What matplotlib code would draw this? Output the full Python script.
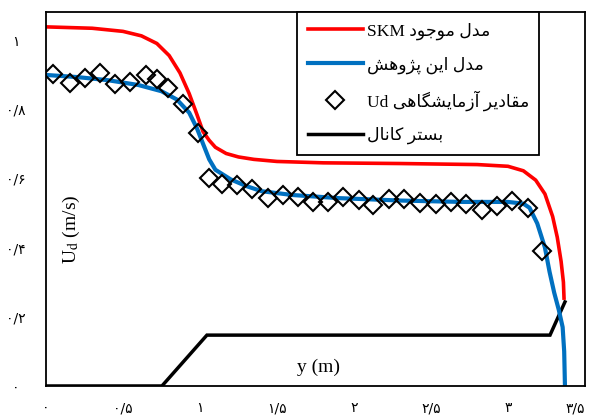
import matplotlib
matplotlib.use("Agg")
import matplotlib.pyplot as plt

plt.rcParams['mathtext.fontset'] = 'stix'

# Persian legend labels (logical order)
label_skm = "مدل موجود SKM"
label_model = "مدل این پژوهش"
label_exp = "مقادیر آزمایشگاهی Ud"
label_bed = "بستر کانال"

# tick values and Persian tick labels
x_ticks = [0, 0.5, 1, 1.5, 2, 2.5, 3, 3.5]
x_tick_labels = ["۰", "۰/۵", "۱", "۱/۵", "۲", "۲/۵", "۳", "۳/۵"]
y_ticks = [0, 0.2, 0.4, 0.6, 0.8, 1.0]
y_tick_labels = ["۰", "۰/۲", "۰/۴", "۰/۶", "۰/۸", "۱"]

# SKM model (red)
skm_y_pos = [0, 0.3, 0.5, 0.62, 0.72, 0.8, 0.87, 0.93, 0.98, 1.02, 1.06, 1.1,
             1.17, 1.25, 1.35, 1.5, 1.8, 2.3, 2.8, 3.0, 3.1, 3.18, 3.24, 3.29,
             3.32, 3.345, 3.36, 3.364]
skm_ud = [1.038, 1.034, 1.025, 1.012, 0.99, 0.955, 0.905, 0.845, 0.785, 0.735,
          0.71, 0.69, 0.672, 0.662, 0.655, 0.649, 0.645, 0.643, 0.640, 0.635,
          0.622, 0.595, 0.555, 0.49, 0.43, 0.36, 0.30, 0.254]

# this study's model (blue)
model_y_pos = [0, 0.2, 0.4, 0.6, 0.75, 0.85, 0.93, 0.98, 1.02, 1.06, 1.1, 1.2,
               1.3, 1.4, 1.6, 1.9, 2.3, 2.7, 3.0, 3.1, 3.14, 3.19, 3.24, 3.27,
               3.30, 3.33, 3.355, 3.365, 3.37]
model_ud = [0.899, 0.893, 0.884, 0.870, 0.852, 0.828, 0.790, 0.745, 0.700, 0.655,
            0.625, 0.597, 0.578, 0.563, 0.552, 0.543, 0.536, 0.532, 0.532, 0.527,
            0.515, 0.47, 0.40, 0.33, 0.27, 0.22, 0.17, 0.10, 0.0]

# measured values (diamonds)
exp_y_pos = [0.045, 0.156, 0.253, 0.351, 0.448, 0.545, 0.649, 0.721, 0.792, 0.890,
             0.987, 1.058, 1.143, 1.240, 1.338, 1.442, 1.539, 1.636, 1.734, 1.831,
             1.929, 2.032, 2.123, 2.227, 2.325, 2.429, 2.532, 2.630, 2.727, 2.831,
             2.929, 3.026, 3.130, 3.221]
exp_ud = [0.902, 0.876, 0.890, 0.905, 0.873, 0.879, 0.899, 0.887, 0.861, 0.815,
          0.731, 0.601, 0.584, 0.581, 0.569, 0.543, 0.552, 0.546, 0.532, 0.532,
          0.546, 0.538, 0.523, 0.540, 0.540, 0.529, 0.526, 0.532, 0.526, 0.509,
          0.520, 0.535, 0.514, 0.390]

# channel bed (black)
bed_y_pos = [0, 0.753, 1.045, 3.273, 3.370]
bed_z = [0, 0, 0.147, 0.147, 0.243]

# simple Persian shaping (matplotlib does not join Arabic letters)
FORMS = {
    'ا': ('\uFE8D', '\uFE8E', None, None),
    'آ': ('\uFE81', '\uFE82', None, None),
    'ب': ('\uFE8F', '\uFE90', '\uFE91', '\uFE92'),
    'پ': ('\uFB56', '\uFB57', '\uFB58', '\uFB59'),
    'ت': ('\uFE95', '\uFE96', '\uFE97', '\uFE98'),
    'ج': ('\uFE9D', '\uFE9E', '\uFE9F', '\uFEA0'),
    'د': ('\uFEA9', '\uFEAA', None, None),
    'ر': ('\uFEAD', '\uFEAE', None, None),
    'ز': ('\uFEAF', '\uFEB0', None, None),
    'ژ': ('\uFB8A', '\uFB8B', None, None),
    'س': ('\uFEB1', '\uFEB2', '\uFEB3', '\uFEB4'),
    'ش': ('\uFEB5', '\uFEB6', '\uFEB7', '\uFEB8'),
    'ق': ('\uFED5', '\uFED6', '\uFED7', '\uFED8'),
    'ک': ('\uFB8E', '\uFB8F', '\uFB90', '\uFB91'),
    'گ': ('\uFB92', '\uFB93', '\uFB94', '\uFB95'),
    'ل': ('\uFEDD', '\uFEDE', '\uFEDF', '\uFEE0'),
    'م': ('\uFEE1', '\uFEE2', '\uFEE3', '\uFEE4'),
    'ن': ('\uFEE5', '\uFEE6', '\uFEE7', '\uFEE8'),
    'ه': ('\uFEE9', '\uFEEA', '\uFEEB', '\uFEEC'),
    'و': ('\uFEED', '\uFEEE', None, None),
    'ی': ('\uFBFC', '\uFBFD', '\uFBFE', '\uFBFF'),
}


def shape_word(word):
    if not any(c in FORMS for c in word):
        return word
    out = []
    for i, c in enumerate(word):
        f = FORMS[c]
        prev_joins = i > 0 and FORMS[word[i - 1]][2] is not None
        next_joins = i < len(word) - 1 and f[2] is not None
        if prev_joins and next_joins:
            out.append(f[3])
        elif prev_joins:
            out.append(f[1])
        elif next_joins:
            out.append(f[2])
        else:
            out.append(f[0])
    return ''.join(reversed(out))


def fa(text):
    return ' '.join(shape_word(w) for w in reversed(text.split()))


fig = plt.figure(figsize=(5.91, 4.18), dpi=100)
ax = fig.add_axes([0.0778, 0.0766, 0.912, 0.8947])

ax.plot(bed_y_pos, bed_z, color='black', lw=2.5, solid_joinstyle='miter', label=fa(label_bed))
ax.plot(skm_y_pos, skm_ud, color='#FF0000', lw=2.6, label=fa(label_skm))
ax.plot(model_y_pos, model_ud, color='#0070C0', lw=3, label=fa(label_model))
ax.plot(exp_y_pos, exp_ud, linestyle='none', marker='D', markersize=9,
        markerfacecolor='none', markeredgecolor='black', markeredgewidth=1.5,
        label=fa(label_exp))

ax.set_xlim(0, 3.5)
ax.set_ylim(0, 1.081)

ax.set_xticks(x_ticks)
ax.set_xticklabels(x_tick_labels, family='DejaVu Sans', fontsize=10)
ax.get_xticklabels()[-1].set_ha('right')
ax.set_yticks(y_ticks)
ax.set_yticklabels(y_tick_labels, family='DejaVu Sans', fontsize=10, ha='center')
ax.tick_params(axis='both', length=0)
ax.tick_params(axis='x', pad=11)
ax.tick_params(axis='y', pad=22)

for s in ax.spines.values():
    s.set_linewidth(1.3)
    s.set_zorder(5)

ax.text(0.048, 0.42, r'U$_{\mathrm{d}}$ (m/s)', transform=ax.transAxes, rotation=90,
        ha='center', va='center', family='Liberation Serif', fontsize=14)
ax.text(0.505, 0.05, 'y (m)', transform=ax.transAxes, ha='center', va='center',
        family='Liberation Serif', fontsize=14)

handles, labels = ax.get_legend_handles_labels()
order = [1, 2, 3, 0]
leg = ax.legend([handles[i] for i in order], [labels[i] for i in order],
                loc='upper left', bbox_to_anchor=(0.466, 1.0), borderaxespad=0,
                fancybox=False, framealpha=1, edgecolor='black',
                prop={'family': ['Liberation Serif', 'DejaVu Sans'], 'size': 12.5},
                handlelength=3.2, handletextpad=0.2, labelspacing=0.95,
                borderpad=0.6)
leg.get_frame().set_linewidth(1.3)
leg.set_zorder(6)

fig.savefig('out.png', dpi=100)
